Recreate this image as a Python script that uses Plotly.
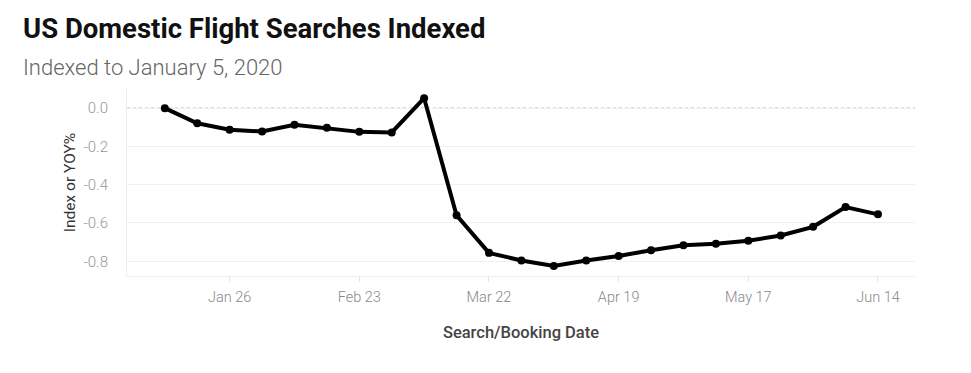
import plotly.graph_objects as go
import pandas as pd

# Weekly dates (Jan 12 .. Jun 14, 2020)
dates = pd.date_range("2020-01-12", "2020-06-14", freq="7D")
values = [0.00, -0.079, -0.113, -0.122, -0.087, -0.103, -0.124, -0.127, 0.052,
          -0.56, -0.756, -0.796, -0.825, -0.796, -0.773, -0.742, -0.716, -0.708,
          -0.693, -0.665, -0.62, -0.517, -0.555]

x_tick_vals = ["2020-01-26", "2020-02-23", "2020-03-22", "2020-04-19", "2020-05-17", "2020-06-14"]
x_tick_text = ["Jan 26", "Feb 23", "Mar 22", "Apr 19", "May 17", "Jun 14"]
y_tick_vals = [0.0, -0.2, -0.4, -0.6, -0.8]
y_tick_text = ["0.0", "-0.2", "-0.4", "-0.6", "-0.8"]

title = "US Domestic Flight Searches Indexed"
subtitle = "Indexed to January 5, 2020"

fig = go.Figure()
fig.add_trace(go.Scatter(
    x=dates, y=values, mode="lines+markers",
    line=dict(color="#000000", width=4),
    marker=dict(color="#000000", size=8),
    hoverinfo="x+y", showlegend=False,
))

W, H = 971, 373
ml, mr, mt, mb = 127, 56, 89, 97
ph = H - mt - mb

def py(pix):
    return (H - mb - pix) / ph

fig.add_shape(type="line", xref="paper", yref="y", x0=0, x1=1, y0=0, y1=0,
              line=dict(color="#a0a0a0", width=1, dash="dot"), layer="below")

fig.add_annotation(text="<b>" + title + "</b>", xref="paper", yref="paper",
                   x=(21 - ml) / (W - ml - mr), y=py(28), xanchor="left", yanchor="middle",
                   showarrow=False, font=dict(family="Roboto", size=27.5, color="#111111"))
fig.add_annotation(text=subtitle, xref="paper", yref="paper",
                   x=(21 - ml) / (W - ml - mr), y=py(67), xanchor="left", yanchor="middle",
                   showarrow=False, font=dict(family="Roboto", size=22, color="#666666", weight=300))

fig.update_layout(
    width=W, height=H,
    margin=dict(l=ml, r=mr, t=mt, b=mb),
    paper_bgcolor="white", plot_bgcolor="white",
    xaxis=dict(
        type="date",
        range=["2020-01-03 20:00", "2020-06-22"],
        tickvals=x_tick_vals, ticktext=x_tick_text,
        showgrid=False, zeroline=False,
        showline=True, linecolor="#eeeeee", linewidth=1,
        ticks="outside", ticklen=5, tickcolor="#e6e6e6",
        ticklabelstandoff=3,
        tickfont=dict(family="Roboto", size=14.5, color="#888888", weight=300),
        title=dict(text="Search/Booking Date", standoff=21,
                   font=dict(family="Roboto", size=16.5, color="#444444", weight=500)),
    ),
    yaxis=dict(
        range=[-0.877, 0.1],
        tickvals=y_tick_vals, ticktext=y_tick_text,
        showgrid=True, gridcolor="#f0f0f0", gridwidth=1,
        zeroline=False,
        showline=True, linecolor="#eeeeee", linewidth=1,
        ticks="", ticklabelstandoff=15,
        tickfont=dict(family="Roboto", size=15, color="#999999", weight=300),
        title=dict(text="Index or YOY%", standoff=4,
                   font=dict(family="Roboto", size=15.5, color="#333333", weight=400)),
    ),
)

fig.write_html("out.html")
